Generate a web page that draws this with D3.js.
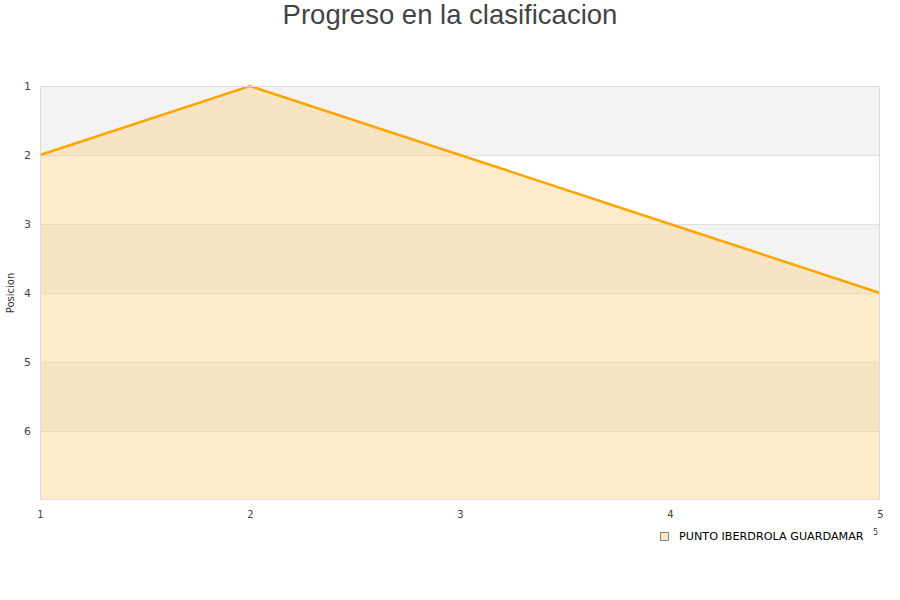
<!DOCTYPE html>
<html>
<head>
<meta charset="utf-8">
<script src="https://cdn.jsdelivr.net/npm/d3@7"></script>
<style>
body { margin: 0; background: #fff; }
#graph text { font-family: "DejaVu Sans", sans-serif; }
</style>
</head>
<body>
<div id="graph"></div>
<script>
var jornadas = [1, 2, 3, 4, 5];
var posiciones = [2, 1, 2, 3, 4];
var y_ticks = [1, 2, 3, 4, 5, 6];
var serie_nombre = "PUNTO IBERDROLA GUARDAMAR";
var titulo = "Progreso en la clasificacion";

var graph_width = 900, graph_height = 600;
var plot_left = 40, plot_right = 880, plot_top = 86, plot_bottom = 500;

var svg = d3.select('#graph').append('svg')
    .attr('width', graph_width)
    .attr('height', graph_height);

var x = d3.scaleLinear().domain([1, 5]).range([plot_left, plot_right]);
var y = d3.scaleLinear().domain([1, 7]).range([plot_top, plot_bottom]);

// bandas alternas de fondo
var bands = d3.range(1, 7);
svg.selectAll('rect.band').data(bands).enter().append('rect')
    .attr('class', 'band')
    .attr('x', plot_left)
    .attr('y', function(d) { return y(d); })
    .attr('width', plot_right - plot_left)
    .attr('height', function(d) { return y(d + 1) - y(d); })
    .attr('fill', function(d) { return d % 2 == 1 ? '#f3f3f3' : '#ffffff'; });

// lineas de rejilla
svg.selectAll('line.grid').data(y_ticks.slice(1)).enter().append('line')
    .attr('x1', plot_left).attr('x2', plot_right)
    .attr('y1', function(d) { return y(d) + 0.5; })
    .attr('y2', function(d) { return y(d) + 0.5; })
    .attr('stroke', '#e0e0e0').attr('stroke-width', 1);

var area = d3.area()
    .x(function(d, i) { return x(jornadas[i]); })
    .y0(y(7))
    .y1(function(d) { return y(d); });

svg.append('path')
    .datum(posiciones)
    .attr('d', area)
    .attr('fill', 'rgb(252,197,97)')
    .attr('fill-opacity', 0.33);

var line = d3.line()
    .x(function(d, i) { return x(jornadas[i]); })
    .y(function(d) { return y(d); });

svg.append('path')
    .datum(posiciones)
    .attr('d', line)
    .attr('fill', 'none')
    .attr('stroke', '#ffa500')
    .attr('stroke-width', 2.5);

// borde
svg.append('rect')
    .attr('x', plot_left + 0.5).attr('y', plot_top + 0.5)
    .attr('width', plot_right - plot_left - 1).attr('height', plot_bottom - plot_top - 1)
    .attr('fill', 'none').attr('stroke', '#dcdcdc');

// ejes
var yAxis = d3.axisLeft(y).tickValues(y_ticks).tickFormat(d3.format('d')).tickSize(0).tickPadding(9);
svg.append('g').attr('transform', 'translate(' + plot_left + ',0)').call(yAxis)
    .call(function(g) { g.select('.domain').remove(); })
    .selectAll('text').attr('font-size', 11).attr('fill', '#444');

var xAxis = d3.axisBottom(x).tickValues(jornadas).tickFormat(d3.format('d')).tickSize(0).tickPadding(11);
svg.append('g').attr('transform', 'translate(0,' + plot_bottom + ')').call(xAxis)
    .call(function(g) { g.select('.domain').remove(); })
    .selectAll('text').attr('font-size', 10).attr('fill', '#444');

svg.append('text')
    .attr('transform', 'translate(14,' + ((plot_top + plot_bottom) / 2) + ') rotate(-90)')
    .attr('text-anchor', 'middle')
    .attr('font-size', 10).attr('fill', '#333')
    .text('Posicion');

svg.append('text')
    .attr('x', graph_width / 2).attr('y', 24)
    .attr('text-anchor', 'middle')
    .attr('font-size', 27.5).attr('fill', '#444')
    .style('font-family', '"Liberation Sans", Arial, sans-serif')
    .text(titulo);

// leyenda
svg.append('rect')
    .attr('x', 660.5).attr('y', 532.5).attr('width', 8).attr('height', 8)
    .attr('fill', '#fde7c0').attr('stroke', '#888');
svg.append('text')
    .attr('x', 679).attr('y', 540)
    .attr('font-size', 11.2).attr('fill', '#000')
    .text(serie_nombre);
svg.append('text')
    .attr('x', 873).attr('y', 535)
    .attr('font-size', 8).attr('fill', '#333')
    .text('5');
</script>
</body>
</html>
